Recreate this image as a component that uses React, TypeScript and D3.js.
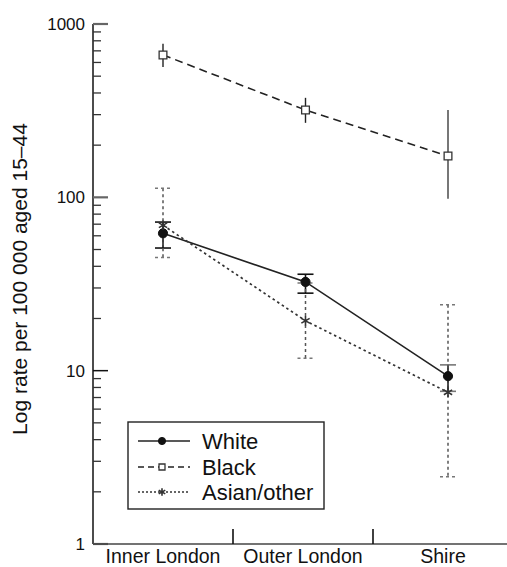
import React from "react";
import * as d3 from "d3";

const categories = ["Inner London", "Outer London", "Shire"];
const seriesNames = ["White", "Black", "Asian/other"];
const whiteRate = [62, 32.5, 9.3];
const whiteLow = [51, 28, 7.6];
const whiteHigh = [72, 36, 10.8];
const blackRate = [663, 319, 173];
const blackLow = [565, 269, 98];
const blackHigh = [768, 375, 319];
const asianRate = [69, 19.4, 7.5];
const asianLow = [45, 11.8, 2.44];
const asianHigh = [113, 32, 24];
const yTicks = [1, 10, 100, 1000];
const yTitle = "Log rate per 100 000 aged 15–44";

const W = 507;
const H = 567;
const FONT = "'Liberation Sans', Arial, Helvetica, sans-serif";

export default function App() {
  const y = d3.scaleLog().domain([1, 1000]).range([544, 24]);
  const xPt = d3.scalePoint<string>().domain(categories).range([163, 448]);
  const xBand = d3.scaleBand<string>().domain(categories).range([93, 513]);
  const axisX = 93;
  const axisY = y(1);

  const minor: number[] = [];
  for (let dec = 1; dec < 1000; dec *= 10) {
    for (let k = 2; k <= 9; k++) minor.push(k * dec);
  }

  const series = [
    { name: seriesNames[0], v: whiteRate, lo: whiteLow, hi: whiteHigh },
    { name: seriesNames[1], v: blackRate, lo: blackLow, hi: blackHigh },
    { name: seriesNames[2], v: asianRate, lo: asianLow, hi: asianHigh },
  ];

  const line = d3
    .line<number>()
    .x((_, i) => xPt(categories[i]) as number)
    .y((d) => y(d));

  const circle = (s: number) => d3.symbol(d3.symbolCircle, s)() as string;
  const square = (s: number) => d3.symbol(d3.symbolSquare, s)() as string;
  const aster = (s: number) => d3.symbol(d3.symbolAsterisk, s)() as string;

  const marker = (idx: number, big: boolean) => {
    if (idx === 0)
      return <path d={circle(big ? 66 : 40)} fill="#111" stroke="#111" strokeWidth={1} />;
    if (idx === 1)
      return <path d={square(big ? 60 : 36)} fill="#fff" stroke="#333" strokeWidth={1.3} />;
    return <path d={aster(big ? 64 : 40)} fill="none" stroke="#333" strokeWidth={1.6} />;
  };

  const lineStyle = [
    { dash: undefined, w: 1.6, c: "#222" },
    { dash: "8,5", w: 1.6, c: "#222" },
    { dash: "2.5,3", w: 1.7, c: "#333" },
  ];

  const legendRows = [441, 467, 492];

  return (
    <svg
      width={W}
      height={H}
      style={{ position: "absolute", left: 0, top: 0, display: "block", background: "#fff" }}
      fontFamily={FONT}
    >
      <rect x={0} y={0} width={W} height={H} fill="#fff" />
      {/* y axis */}
      <line x1={axisX} x2={axisX} y1={y(1000)} y2={axisY} stroke="#111" strokeWidth={1.5} />
      {minor.map((m) => (
        <line key={"m" + m} x1={axisX} x2={axisX + 8} y1={y(m)} y2={y(m)} stroke="#333" strokeWidth={1.3} />
      ))}
      {yTicks.map((t) => (
        <g key={"t" + t}>
          <line x1={axisX} x2={axisX + 15} y1={y(t)} y2={y(t)} stroke={t === 10 ? "#111" : "#666"} strokeWidth={t === 10 ? 1.5 : 2.2} />
          <text x={85} y={y(t)} dy="0.36em" textAnchor="end" fontSize={17} fill="#111">
            {t}
          </text>
        </g>
      ))}
      <text
        transform={`translate(27, 279) rotate(-90)`}
        textAnchor="middle"
        fontSize={21}
        fill="#111"
      >
        {yTitle}
      </text>

      {/* x axis */}
      <line x1={axisX} x2={513} y1={axisY} y2={axisY} stroke="#444" strokeWidth={1.6} />
      {categories.slice(1).map((c) => (
        <line key={"s" + c} x1={xBand(c) as number} x2={xBand(c) as number} y1={axisY - 15} y2={axisY} stroke="#111" strokeWidth={1.6} />
      ))}
      {categories.map((c) => (
        <text key={"l" + c} x={(xBand(c) as number) + xBand.bandwidth() / 2} y={563} textAnchor="middle" fontSize={19.5} fill="#111">
          {c}
        </text>
      ))}

      {/* error bars */}
      {series.map((s, si) =>
        categories.map((c, i) => {
          const cx = xPt(c) as number;
          const y1 = y(s.hi[i]);
          const y2 = y(s.lo[i]);
          if (si === 0)
            return (
              <g key={`e${si}${i}`}>
                <line x1={cx} x2={cx} y1={y1} y2={y2} stroke="#111" strokeWidth={1.6} />
                <line x1={cx - 8} x2={cx + 8} y1={y1} y2={y1} stroke={i === 2 ? "#777" : "#111"} strokeWidth={1.6} />
                <line x1={cx - 8} x2={cx + 8} y1={y2} y2={y2} stroke={i === 2 ? "#777" : "#111"} strokeWidth={1.6} />
              </g>
            );
          if (si === 1)
            return (
              <line key={`e${si}${i}`} x1={cx} x2={cx} y1={y1} y2={y2} stroke={i === 2 ? "#777" : "#222"} strokeWidth={i === 2 ? 2 : 1.4} />
            );
          return (
            <g key={`e${si}${i}`}>
              <line x1={cx} x2={cx} y1={y1} y2={y2} stroke="#555" strokeWidth={1.5} strokeDasharray="3,3" />
              <line x1={cx - 8} x2={cx + 8} y1={y1} y2={y1} stroke="#777" strokeWidth={1.5} strokeDasharray="3,3" />
              <line x1={cx - 8} x2={cx + 8} y1={y2} y2={y2} stroke="#777" strokeWidth={1.5} strokeDasharray="3,3" />
            </g>
          );
        })
      )}

      {/* lines */}
      {series.map((s, si) => (
        <path
          key={"p" + si}
          d={line(s.v) as string}
          fill="none"
          stroke={lineStyle[si].c}
          strokeWidth={lineStyle[si].w}
          strokeDasharray={lineStyle[si].dash}
        />
      ))}

      {/* markers */}
      {series.map((s, si) =>
        s.v.map((v, i) => (
          <g key={`k${si}${i}`} transform={`translate(${xPt(categories[i])},${y(v)})`}>
            {marker(si, true)}
          </g>
        ))
      )}

      {/* legend */}
      <rect x={128} y={422} width={196} height={87} fill="#fff" stroke="#222" strokeWidth={1.4} />
      {series.map((s, si) => (
        <g key={"lg" + si}>
          <line
            x1={138}
            x2={190}
            y1={legendRows[si]}
            y2={legendRows[si]}
            stroke={lineStyle[si].c}
            strokeWidth={1.5}
            strokeDasharray={si === 1 ? "6,4" : si === 2 ? "2,2" : undefined}
          />
          <g transform={`translate(162,${legendRows[si]})`}>{marker(si, false)}</g>
          <text x={202} y={legendRows[si]} dy="0.36em" fontSize={22} fill="#111">
            {s.name}
          </text>
        </g>
      ))}
    </svg>
  );
}
